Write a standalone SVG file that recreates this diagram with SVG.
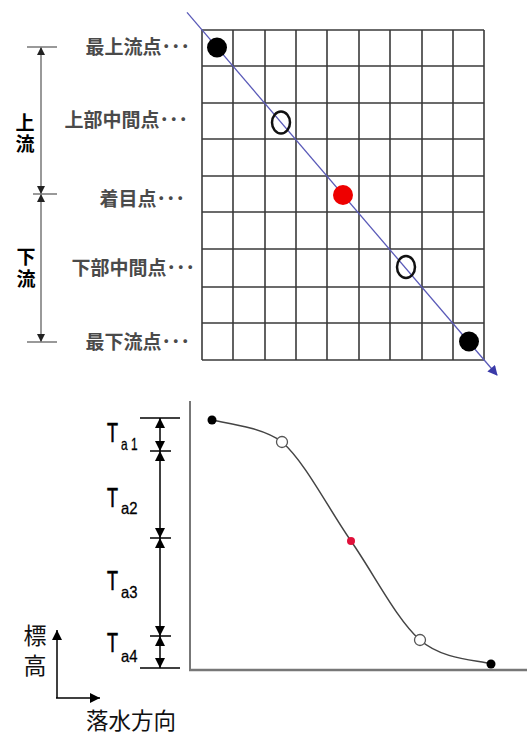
<svg xmlns="http://www.w3.org/2000/svg" width="527" height="734" viewBox="0 0 527 734">
<style>
.lbl{font-family:"Noto Sans CJK JP","Noto Sans CJK SC",sans-serif;font-size:19px;font-weight:bold;fill:#4a4a4a;text-anchor:end}
.side{font-family:"Noto Sans CJK JP","Noto Sans CJK SC",sans-serif;font-size:19px;font-weight:bold;fill:#000;text-anchor:middle}
.cjk{font-family:"Noto Sans CJK JP","Noto Sans CJK SC",sans-serif;fill:#111;text-anchor:middle}
.T{font-family:"Liberation Sans",Arial,sans-serif;font-size:28px;fill:#000;stroke:#000;stroke-width:0.7}
.sub{font-family:"Liberation Sans",Arial,sans-serif;font-size:16.5px;fill:#000;stroke:#000;stroke-width:0.3}
.grid line{stroke:#3a3a3a;stroke-width:1.6}
.dim{stroke:#000;stroke-width:1.5}
.brk{stroke:#777;stroke-width:1.5}
</style>
<defs>
<marker id="ah" viewBox="0 0 10 10" refX="10" refY="5" markerWidth="10" markerHeight="11" markerUnits="userSpaceOnUse" orient="auto-start-reverse"><path d="M0,0 L10,5 L0,10 Z" fill="#000"/></marker>
<marker id="ahg" viewBox="0 0 10 10" refX="10" refY="5" markerWidth="8" markerHeight="8" markerUnits="userSpaceOnUse" orient="auto-start-reverse"><path d="M0,0 L10,5 L0,10 Z" fill="#222"/></marker>
<marker id="ahb" viewBox="0 0 10 10" refX="9" refY="5" markerWidth="11" markerHeight="10" markerUnits="userSpaceOnUse" orient="auto"><path d="M0,0 L10,5 L0,10 Z" fill="#3a3aa8"/></marker>
</defs>
<rect width="527" height="734" fill="#fff"/>

<g id="grid" class="grid">
<line x1="202" y1="30" x2="202" y2="360"/>
<line x1="233" y1="30" x2="233" y2="360"/>
<line x1="265" y1="30" x2="265" y2="360"/>
<line x1="296" y1="30" x2="296" y2="360"/>
<line x1="327" y1="30" x2="327" y2="360"/>
<line x1="359" y1="30" x2="359" y2="360"/>
<line x1="390" y1="30" x2="390" y2="360"/>
<line x1="422" y1="30" x2="422" y2="360"/>
<line x1="453" y1="30" x2="453" y2="360"/>
<line x1="484" y1="30" x2="484" y2="360"/>
<line x1="202" y1="30" x2="484" y2="30"/>
<line x1="202" y1="66" x2="484" y2="66"/>
<line x1="202" y1="103" x2="484" y2="103"/>
<line x1="202" y1="139" x2="484" y2="139"/>
<line x1="202" y1="176" x2="484" y2="176"/>
<line x1="202" y1="212" x2="484" y2="212"/>
<line x1="202" y1="249" x2="484" y2="249"/>
<line x1="202" y1="287" x2="484" y2="287"/>
<line x1="202" y1="323" x2="484" y2="323"/>
<line x1="202" y1="360" x2="484" y2="360"/>
</g>

<g id="connectors">
<line x1="187" y1="12.4" x2="497" y2="375" stroke="#5a5ab8" stroke-width="1.3" marker-end="url(#ahb)"/>
<line class="brk" x1="41" y1="47" x2="41" y2="194" marker-start="url(#ahg)" marker-end="url(#ahg)"/>
<line class="brk" x1="41" y1="194" x2="41" y2="342" marker-start="url(#ahg)" marker-end="url(#ahg)"/>
<line class="brk" x1="27" y1="47" x2="57" y2="47"/>
<line class="brk" x1="33" y1="194" x2="57" y2="194"/>
<line class="brk" x1="27" y1="342" x2="57" y2="342"/>
<line x1="190" y1="401" x2="190" y2="670" stroke="#777" stroke-width="2"/>
<line x1="189" y1="670" x2="527" y2="670" stroke="#777" stroke-width="2.5"/>
<path d="M212,420 C225,423 262,427 282,442 C305.2,462.2 328,508 351,541 C374,574 396.7,619.5 420,640 C443.3,660.5 479.2,660 491,664" fill="none" stroke="#444" stroke-width="1.5"/>
<line class="dim" x1="160" y1="418" x2="160" y2="451" marker-start="url(#ah)" marker-end="url(#ah)"/>
<line class="dim" x1="160" y1="451" x2="160" y2="538" marker-start="url(#ah)" marker-end="url(#ah)"/>
<line class="dim" x1="160" y1="538" x2="160" y2="636" marker-start="url(#ah)" marker-end="url(#ah)"/>
<line class="dim" x1="160" y1="636" x2="160" y2="668" marker-start="url(#ah)" marker-end="url(#ah)"/>
<line class="dim" x1="140" y1="418" x2="180" y2="418"/>
<line class="dim" x1="150" y1="451" x2="171" y2="451"/>
<line class="dim" x1="150" y1="538" x2="171" y2="538"/>
<line class="dim" x1="150" y1="636" x2="171" y2="636"/>
<line class="dim" x1="140" y1="668" x2="180" y2="668"/>
<line x1="57" y1="698" x2="57" y2="630" stroke="#000" stroke-width="1.5" marker-end="url(#ah)"/>
<line x1="56" y1="698" x2="100" y2="698" stroke="#000" stroke-width="1.5" marker-end="url(#ah)"/>
</g>

<g id="pt-top">
<circle cx="217" cy="47.5" r="10" fill="#000"/>
<text class="lbl" x="190" y="54">最上流点･･･</text>
</g>
<g id="pt-upper-mid">
<ellipse cx="281" cy="122.5" rx="9" ry="11" fill="none" stroke="#111" stroke-width="2.5"/>
<text class="lbl" x="188" y="127">上部中間点･･･</text>
</g>
<g id="pt-target">
<circle cx="343" cy="195" r="10" fill="#ee0000"/>
<text class="lbl" x="185" y="206">着目点･･･</text>
</g>
<g id="pt-lower-mid">
<ellipse cx="406" cy="267" rx="9" ry="11" fill="none" stroke="#111" stroke-width="2.5"/>
<text class="lbl" x="195" y="275">下部中間点･･･</text>
</g>
<g id="pt-bottom">
<circle cx="469" cy="341.5" r="10" fill="#000"/>
<text class="lbl" x="190" y="349">最下流点･･･</text>
</g>

<g id="upstream"><text class="side" x="25" y="130">上</text><text class="side" x="25" y="151">流</text></g>
<g id="downstream"><text class="side" x="26" y="264">下</text><text class="side" x="26" y="286">流</text></g>

<g id="profile-points">
<circle cx="212" cy="420" r="4.5" fill="#000"/>
<circle cx="282" cy="442" r="5.5" fill="#fff" stroke="#555" stroke-width="1.3"/>
<circle cx="351" cy="541" r="4" fill="#e0103a"/>
<circle cx="420" cy="640" r="5.5" fill="#fff" stroke="#555" stroke-width="1.3"/>
<circle cx="491" cy="664" r="4.5" fill="#000"/>
</g>

<g id="Ta1"><text class="T" x="107" y="442" textLength="11" lengthAdjust="spacingAndGlyphs">T</text><text class="sub" x="121" y="450" textLength="16.5" lengthAdjust="spacingAndGlyphs">a 1</text></g>
<g id="Ta2"><text class="T" x="107" y="507" textLength="11" lengthAdjust="spacingAndGlyphs">T</text><text class="sub" x="121" y="514" textLength="16.5" lengthAdjust="spacingAndGlyphs">a2</text></g>
<g id="Ta3"><text class="T" x="107" y="590" textLength="11" lengthAdjust="spacingAndGlyphs">T</text><text class="sub" x="121" y="598" textLength="16.5" lengthAdjust="spacingAndGlyphs">a3</text></g>
<g id="Ta4"><text class="T" x="107" y="652" textLength="11" lengthAdjust="spacingAndGlyphs">T</text><text class="sub" x="121" y="662" textLength="16.5" lengthAdjust="spacingAndGlyphs">a4</text></g>

<g id="axis-labels">
<text class="cjk" x="35" y="644" font-size="23">標</text>
<text class="cjk" x="35" y="674" font-size="23">高</text>
<text class="cjk" x="131" y="729" font-size="22.5">落水方向</text>
</g>
</svg>
